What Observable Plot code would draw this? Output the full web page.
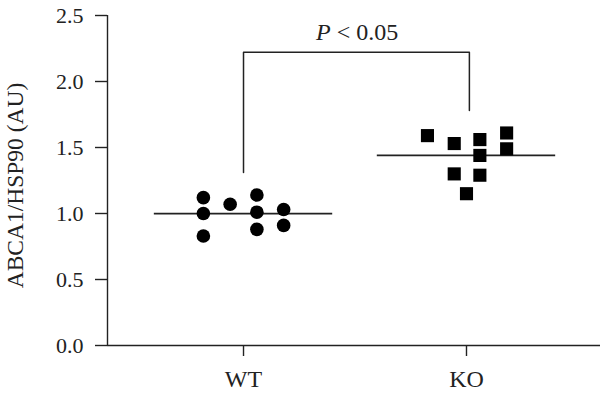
<!DOCTYPE html>
<html>
<head>
<meta charset="utf-8">
<script src="https://cdn.jsdelivr.net/npm/d3@7"></script>
<script src="https://cdn.jsdelivr.net/npm/@observablehq/plot@0.6"></script>
<style>
  html, body { margin: 0; padding: 0; background: #fff; }
  #chart svg { display: block; }
</style>
</head>
<body>
<div id="chart"></div>
<script>
// Groups (x positions 1 and 2 on a linear scale)
const groups = ["WT", "KO"];
const groupPos = [1, 2];

// WT values (circles) with horizontal scatter offsets
const wtValues  = [1.12, 1.00, 0.83, 1.07, 1.14, 1.01, 0.88, 1.03, 0.91];
const wtOffsets = [-0.18, -0.18, -0.18, -0.06, 0.06, 0.06, 0.06, 0.18, 0.18];

// KO values (squares) with horizontal scatter offsets
const koValues  = [1.59, 1.53, 1.30, 1.15, 1.56, 1.44, 1.29, 1.61, 1.49];
const koOffsets = [-0.175, -0.055, -0.055, 0, 0.06, 0.06, 0.06, 0.18, 0.18];

// Bracket and annotation
const bracketX = [1, 1, 2.013, 2.013];
const bracketY = [1.31, 2.222, 2.222, 1.78];
const pLabel = "P < 0.05";
const pLabelX = 1.51;
const pLabelY = 2.311;
const yLabel = "ABCA1/HSP90 (AU)";

const yTicks = [0, 0.5, 1.0, 1.5, 2.0, 2.5];
const meanHalfWidth = 0.4;

const wt = wtValues.map((v, i) => ({x: groupPos[0] + wtOffsets[i], y: v}));
const ko = koValues.map((v, i) => ({x: groupPos[1] + koOffsets[i], y: v}));
const means = [
  {g: groupPos[0], m: d3.mean(wtValues)},
  {g: groupPos[1], m: d3.mean(koValues)}
];
const bracket = bracketX.map((x, i) => ({x, y: bracketY[i]}));

const ink = "#222";
const font = "'Liberation Serif', 'Times New Roman', serif";

const plot = Plot.plot({
  width: 600,
  height: 394,
  marginLeft: 107,
  marginRight: 0,
  marginTop: 15,
  marginBottom: 49,
  style: {fontFamily: font, fontSize: "22px", color: ink, background: "#fff"},
  x: {domain: [0.39, 2.601]},
  y: {domain: [0, 2.5]},
  marks: [
    Plot.ruleY([0], {stroke: ink, strokeWidth: 1.4}),
    Plot.ruleX([0.39], {y1: 0, y2: 2.5, stroke: ink, strokeWidth: 1.4}),
    Plot.axisY({
      ticks: yTicks, tickFormat: d3.format(".1f"), tickSize: 12, tickPadding: 12,
      stroke: ink, strokeWidth: 1.4, fill: ink, fontSize: 22, label: null
    }),
    Plot.axisX({
      ticks: groupPos, tickFormat: (d) => groups[groupPos.indexOf(d)],
      tickSize: 11, tickPadding: 13, stroke: ink, strokeWidth: 1.4, fill: ink, fontSize: 24, label: null
    }),
    Plot.ruleY(means, {x1: d => d.g - meanHalfWidth, x2: d => d.g + meanHalfWidth, y: "m", stroke: ink, strokeWidth: 1.6}),
    Plot.dot(wt, {x: "x", y: "y", r: 6.8, symbol: "circle", fill: "#000", stroke: null}),
    Plot.dot(ko, {x: "x", y: "y", r: 7.4, symbol: "square", fill: "#000", stroke: null}),
    Plot.line(bracket, {x: "x", y: "y", stroke: ink, strokeWidth: 1.5, curve: "linear"}),
    Plot.text([pLabel], {x: pLabelX, y: pLabelY, text: d => d, lineAnchor: "bottom", fontSize: 24, fill: ink, fontFamily: font}),
    Plot.text([yLabel], {
      frameAnchor: "left", textAnchor: "middle", lineAnchor: "middle", text: d => d, rotate: -90,
      dx: -92, dy: 5, fontSize: 23.5, fill: ink, fontFamily: font
    })
  ]
});

// Italicize the "P"
d3.select(plot).selectAll("text").filter(function() { return this.textContent === pLabel; })
  .each(function() {
    const t = d3.select(this);
    t.text(null);
    t.append("tspan").attr("font-style", "italic").text("P");
    t.append("tspan").text(" < 0.05");
  });

document.getElementById("chart").appendChild(plot);
</script>
</body>
</html>
